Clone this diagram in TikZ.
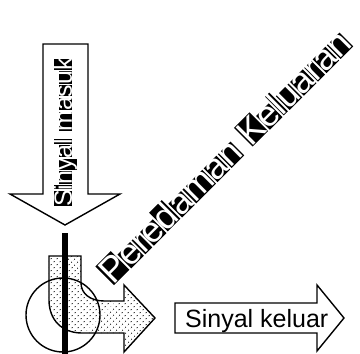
\documentclass[tikz,border=0pt]{standalone}
\usepackage{fontspec}
\setmainfont{Liberation Sans}
\usetikzlibrary{patterns.meta}
\definecolor{sigLine}{HTML}{000000}
\definecolor{sigFill}{HTML}{FFFFFF}
\tikzset{
  sig outline/.style={draw=sigLine, line width=1.4pt, line join=miter},
  sig dots/.style={pattern={Dots[distance=4pt, radius=0.65pt, angle=45]}, pattern color=sigLine},
  sig label/.style={inner sep=0pt, font=\fontsize{25}{30}\selectfont},
}
% white glyph on a black box of its own ink size
% class 0: x-height letter, 1: cap/ascender, 2: descender
\newcommand\glyphbox[2]{%
  \setbox0\hbox{#1}%
  \ifcase#2\relax
    \def\gbht{.53em}\def\gbdp{.01em}%
  \or \def\gbht{.73em}\def\gbdp{0em}%
  \or \def\gbht{.53em}\def\gbdp{.21em}%
  \fi
  \rlap{\kern.03em\color{sigLine}\rule[-\gbdp]{\dimexpr\wd0-.06em\relax}{\dimexpr\gbht+\gbdp\relax}}%
  \textcolor{sigFill}{#1}}
\newcommand\glyphrun[1]{\foreach \gl/\gc in {#1}{\glyphbox{\gl}{\gc}}}

\begin{document}
\begin{tikzpicture}[x=1pt, y=-1pt]
\useasboundingbox (0,0) rectangle (360,354);

% Input arrow (pointing down)
\draw[sig outline, fill=sigFill] (43,44) -- (88,44) -- (88,194) -- (120,194)
  -- (65,225) -- (10,194) -- (43,194) -- cycle;
\node[sig label, rotate=90, anchor=base west] (sigin) at (72,207)
  {\glyphrun{S/1,i/1,n/0,y/2,a/0,l/1}\ \glyphrun{m/0,a/0,s/0,u/0,k/1}};

% Bent arrow (dotted), turning from down to right
\draw[sig outline, sig dots] (49,256) -- (81,256) -- (81,283)
  .. controls (81,294) and (91,301) .. (104,301) -- (124,301) -- (124,285)
  -- (155,318) -- (124,352) -- (124,333) -- (82,333)
  .. controls (62,333) and (49,320) .. (49,300) -- cycle;

% Circle and thick vertical bar
\draw[sig outline] (63,315) circle (37);
\draw[sigLine, line width=6pt] (65,233) -- (65,354);

% Output arrow with label
\draw[sig outline, fill=sigFill] (175,303) -- (317,303) -- (317,285)
  -- (344,318) -- (317,351) -- (317,333) -- (175,333) -- cycle;
\node[sig label, anchor=base west] (sigout) at (185,327) {Sinyal keluar};

% Diagonal label
\node[inner sep=0pt, font=\fontsize{36}{43}\selectfont, rotate=45, anchor=base west]
  (damping) at (113,286)
  {\glyphrun{P/1,e/0,r/0,e/0,d/1,a/0,m/0,a/0,n/0}\ \glyphrun{K/1,e/0,l/1,u/0,a/0,r/0,a/0,n/0}};

\end{tikzpicture}
\end{document}
